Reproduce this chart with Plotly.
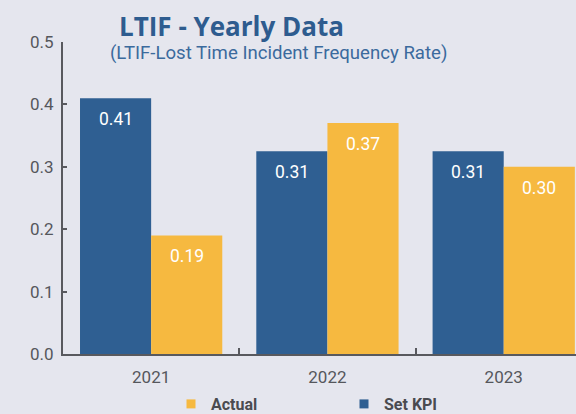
import plotly.graph_objects as go

years = ["2021", "2022", "2023"]
set_kpi = [0.41, 0.325, 0.325]
set_kpi_labels = ["0.41", "0.31", "0.31"]
actual = [0.19, 0.37, 0.30]
actual_labels = ["0.19", "0.37", "0.30"]
y_ticks = [0.0, 0.1, 0.2, 0.3, 0.4, 0.5]

BLUE = "#2f5f92"
YELLOW = "#f6b940"
BG = "#e5e6ee"
AXIS = "#58595e"
TXT = "#55575c"
FONT = "Roboto"
BARGAP = 0.193

fig = go.Figure()
fig.add_trace(go.Bar(x=years, y=set_kpi, name="Set KPI", marker_color=BLUE,
                     marker_line_width=0, showlegend=False))
fig.add_trace(go.Bar(x=years, y=actual, name="Actual", marker_color=YELLOW,
                     marker_line_width=0, showlegend=False))
# legend entries (Actual first, then Set KPI)
fig.add_trace(go.Scatter(x=[None], y=[None], mode="markers", name="Actual",
                         marker=dict(symbol="square", size=9, color=YELLOW)))
fig.add_trace(go.Scatter(x=[None], y=[None], mode="markers", name="Set KPI",
                         marker=dict(symbol="square", size=9, color=BLUE)))

off = (1 - BARGAP) / 4
ann = []
for i, (v, t) in enumerate(zip(set_kpi, set_kpi_labels)):
    ann.append(dict(x=i - off, y=v, xref="x", yref="y", text=t, showarrow=False,
                    yshift=-21, yanchor="middle",
                    font=dict(family=FONT, size=17.5, color="white")))
for i, (v, t) in enumerate(zip(actual, actual_labels)):
    ann.append(dict(x=i + off, y=v, xref="x", yref="y", text=t, showarrow=False,
                    yshift=-21, yanchor="middle",
                    font=dict(family=FONT, size=17.5, color="white")))
ann.append(dict(x=(108 - 63) / 513, y=(354 - 53) / 312, xref="paper", yref="paper",
                xanchor="left", yanchor="middle", showarrow=False,
                text="(LTIF-Lost Time Incident Frequency Rate)",
                font=dict(family=FONT, size=18.6, color="#3b6a9d")))

fig.update_layout(
    width=576, height=414,
    margin=dict(l=63, r=0, t=42, b=60, autoexpand=False),
    paper_bgcolor=BG, plot_bgcolor=BG,
    barmode="group", bargap=BARGAP, bargroupgap=0,
    title=dict(text="<b>LTIF - Yearly Data</b>", x=119 / 576, xref="container",
               xanchor="left", y=1 - 27 / 414, yref="container", yanchor="middle",
               font=dict(family="Open Sans", size=26, color="#2e5c8f")),
    annotations=ann,
    font=dict(family=FONT, size=17, color=TXT),
    legend=dict(orientation="h", x=(171 - 63) / 513, xanchor="left",
                y=(354 - 404) / 312, yanchor="middle",
                entrywidth=128, entrywidthmode="pixels", itemwidth=30,
                bgcolor="rgba(0,0,0,0)",
                font=dict(family=FONT, size=16, color="#4a4b50", weight="bold")),
    xaxis=dict(type="category", range=[-0.5, 2.41], showline=True, linecolor=AXIS,
               linewidth=2, ticks="inside", tickson="boundaries", ticklen=6,
               tickcolor=AXIS, tickwidth=2, showgrid=False, ticklabelstandoff=7,
               automargin=False,
               tickfont=dict(family=FONT, size=17, color=TXT)),
    yaxis=dict(range=[0, 0.5], tickvals=y_ticks, tickformat=".1f", showline=True,
               linecolor=AXIS, linewidth=2, ticks="inside", ticklen=4, tickcolor=AXIS,
               tickwidth=2, showgrid=False, zeroline=False, ticklabelstandoff=4,
               automargin=False,
               tickfont=dict(family=FONT, size=17, color=TXT)),
)

fig.write_html("out.html", config={"displayModeBar": False},
               post_script="document.body.style.margin='0';document.body.style.overflow='hidden';")
